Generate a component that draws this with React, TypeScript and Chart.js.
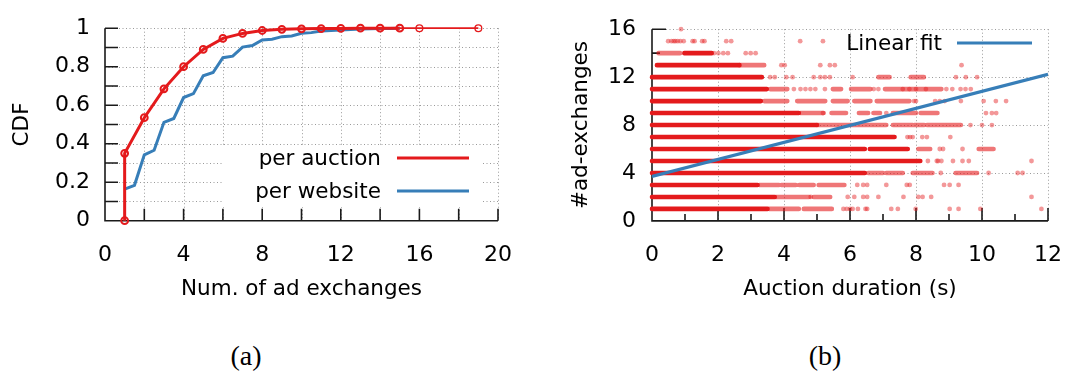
import React, { useEffect, useRef } from "react";
import { Chart, registerables } from "chart.js";

Chart.register(...registerables);

const FONT = "DejaVu Sans";
const RED = "#e41a1c";
const BLUE = "#377eb8";

// (a) CDF of the number of ad exchanges
const auctionX = [1, 1, 2, 3, 4, 5, 6, 7, 8, 9, 10, 11, 12, 13, 14, 15, 16, 19];
const auctionCdf = [0, 0.35, 0.535, 0.685, 0.8, 0.89, 0.947, 0.973, 0.988, 0.994, 0.997, 0.998, 0.999, 1, 1, 1, 1, 1];
const websiteX = [1, 1.5, 2, 2.5, 3, 3.5, 4, 4.5, 5, 5.5, 6, 6.5, 7, 7.5, 8, 8.5, 9, 9.5, 10, 10.5, 11, 11.5, 12, 12.5, 13, 13.5, 14, 14.5, 15];
const websiteCdf = [0.164, 0.184, 0.342, 0.366, 0.511, 0.531, 0.64, 0.66, 0.753, 0.77, 0.847, 0.855, 0.902, 0.91, 0.939, 0.943, 0.956, 0.96, 0.974, 0.977, 0.985, 0.988, 0.991, 0.993, 0.996, 0.997, 0.999, 0.999, 1];
const cdfXLabels = [0, 4, 8, 12, 16, 20];
const cdfYLabels = [0, 0.2, 0.4, 0.6, 0.8, 1];
const cdfXGrid = [2, 4, 6, 8, 10, 12, 14, 16, 18, 20];
const cdfYGrid = [0.1, 0.2, 0.3, 0.4, 0.5, 0.6, 0.7, 0.8, 0.9, 1];

// (b) ad exchanges per auction against auction duration
const durationLabels = [0, 2, 4, 6, 8, 10, 12];
const exchangeLabels = [0, 4, 8, 12, 16];
const durationMinor = [1, 3, 5, 7, 9, 11];
const exchangeMinor = [2, 6, 10, 14];
const fitX = [0, 12];
const fitY = [3.72, 12.24];
// [exchanges, duration from, duration to] where auctions pile up into a solid band
const solidRuns: [number, number, number][] = [
  [1, 0, 3.5], [2, 0, 3.72], [3, 0, 3.2], [4, 0, 6.45], [5, 0, 8.13],
  [6, 0, 6.45], [6, 6.6, 7.75], [7, 0, 7.35], [8, 0, 5.0], [9, 0, 4.45],
  [10, 0, 3.3], [11, 0, 3.48], [12, 0, 3.33], [13, 0.15, 2.65], [14, 0.98, 1.81],
];
// [exchanges, duration from, duration to] where auctions are frequent but not overlapping
const sparseRuns: [number, number, number][] = [
  [1, 3.55, 4.45], [1, 4.6, 5.45],
  [2, 3.75, 4.76], [2, 4.9, 5.4],
  [3, 3.25, 3.85], [3, 3.92, 4.36], [3, 4.46, 4.9], [3, 5.05, 5.83],
  [4, 6.55, 7.0], [4, 7.1, 7.6], [4, 7.9, 8.5], [4, 9.2, 9.85],
  [6, 8.07, 8.43], [6, 9.9, 10.35],
  [8, 5.0, 7.1], [8, 7.3, 7.9], [8, 7.95, 8.25], [8, 8.33, 9.36],
  [9, 4.5, 5.2], [9, 5.44, 5.88], [9, 6.27, 6.55], [9, 6.71, 6.91], [9, 7.3, 8.0], [9, 8.14, 8.65],
  [10, 3.4, 4.1], [10, 4.4, 5.25], [10, 5.48, 5.93], [10, 6.13, 6.62], [10, 6.81, 7.8],
  [11, 3.58, 4.1], [11, 5.48, 5.73], [11, 6.03, 6.62], [11, 7.06, 8.77],
  [12, 6.86, 7.2], [12, 7.84, 8.24],
  [13, 2.65, 3.4],
  [14, 0.2, 0.85],
];
// [exchanges, durations of isolated auctions]
const isolatedAuctions: [number, number[]][] = [
  [1, [5.8, 5.9, 6.0, 6.08, 6.24, 6.47, 6.52, 7.25, 7.45, 7.99, 9.02, 9.29, 9.95, 11.8]],
  [2, [4.81, 5.93, 6.13, 6.4, 6.52, 6.86, 7.62, 8.07, 8.2, 8.46, 11.5]],
  [3, [6.22, 6.4, 6.52, 7.1, 7.72, 7.81, 8.85, 9.02, 9.29]],
  [4, [8.75, 10.2, 11.08, 11.23]],
  [5, [8.36, 8.63, 8.67, 8.77, 9.12, 9.41, 9.6, 11.5]],
  [6, [8.72, 8.82, 9.41]],
  [7, [7.74, 7.82, 7.9, 8.19, 8.33, 9.04]],
  [8, [9.65, 10.0, 10.3]],
  [9, [5.18, 7.1, 10.12, 10.3, 10.43]],
  [10, [7.94, 8.0, 8.58, 8.72, 8.87, 9.36, 10.05, 10.42, 10.73]],
  [11, [4.3, 4.5, 4.65, 4.8, 4.95, 5.24, 6.72, 6.86, 7.6, 7.8, 8.0, 8.3, 8.92, 9.1, 9.35, 9.5, 9.66]],
  [12, [3.58, 3.72, 4.07, 4.26, 4.9, 5.1, 5.24, 5.39, 6.08, 9.21, 9.51, 9.85]],
  [13, [3.92, 4.02, 5.1, 5.39, 5.54, 9.38]],
  [14, [1.88, 2.01, 2.16, 2.3, 2.84, 2.99, 3.14]],
  [15, [0.49, 0.59, 0.66, 0.71, 0.78, 0.86, 0.96, 1.23, 1.29, 1.52, 1.59, 2.25, 2.4, 4.49, 5.18]],
  [16, [0.88]],
];

type KeyEntry = { text: string; color: string; textRight: number; y: number; from: number; to: number };
type FrameSpec = {
  xGrid: number[];
  yGrid: number[];
  xTicks: [number, number][];
  yTicks: [number, number][];
  box?: [number, number, number, number];
  key: KeyEntry[];
};

// gnuplot-like frame: dotted grid, left/bottom border with inward ticks, and an inline key
function makeFrame(spec: FrameSpec) {
  return {
    id: "frame",
    beforeDatasetsDraw(chart: any) {
      const { ctx, chartArea: a, scales } = chart;
      const xs = scales.x;
      const ys = scales.y;
      ctx.save();
      ctx.strokeStyle = "#9a9a9a";
      ctx.lineWidth = 1;
      ctx.setLineDash([1, 2.5]);
      ctx.beginPath();
      for (const v of spec.xGrid) {
        const px = Math.round(xs.getPixelForValue(v)) + 0.5;
        ctx.moveTo(px, a.top);
        ctx.lineTo(px, a.bottom);
      }
      for (const v of spec.yGrid) {
        const py = Math.round(ys.getPixelForValue(v)) + 0.5;
        ctx.moveTo(a.left, py);
        ctx.lineTo(a.right, py);
      }
      ctx.stroke();
      ctx.setLineDash([]);
      if (spec.box) {
        ctx.fillStyle = "#ffffff";
        ctx.fillRect(spec.box[0], spec.box[1], spec.box[2], spec.box[3]);
      }
      ctx.strokeStyle = "#1a1a1a";
      ctx.lineWidth = 1.6;
      ctx.beginPath();
      ctx.moveTo(a.left, a.top);
      ctx.lineTo(a.left, a.bottom);
      ctx.lineTo(a.right, a.bottom);
      for (const [v, len] of spec.xTicks) {
        const px = xs.getPixelForValue(v);
        ctx.moveTo(px, a.bottom);
        ctx.lineTo(px, a.bottom - len);
      }
      for (const [v, len] of spec.yTicks) {
        const py = ys.getPixelForValue(v);
        ctx.moveTo(a.left, py);
        ctx.lineTo(a.left + len, py);
      }
      ctx.stroke();
      ctx.restore();
    },
    afterDatasetsDraw(chart: any) {
      const { ctx } = chart;
      ctx.save();
      ctx.font = `21.5px "${FONT}"`;
      ctx.textAlign = "right";
      ctx.textBaseline = "middle";
      for (const k of spec.key) {
        ctx.fillStyle = "#000";
        ctx.fillText(k.text, k.textRight, k.y + 1.5);
        ctx.strokeStyle = k.color;
        ctx.lineWidth = 3;
        ctx.beginPath();
        ctx.moveTo(k.from, k.y);
        ctx.lineTo(k.to, k.y);
        ctx.stroke();
      }
      ctx.restore();
    },
  };
}

const tickFont = { family: FONT, size: 22 };
const titleFont = { family: FONT, size: 21.5 };

function axis(
  min: number,
  max: number,
  labels: number[],
  title: string,
  horizontal: boolean,
  extent: number,
  titlePad: number,
  labelPad: number
) {
  return {
    type: "linear",
    min,
    max,
    afterBuildTicks: (s: any) => {
      s.ticks = labels.map((value) => ({ value }));
    },
    afterFit: (s: any) => {
      if (horizontal) s.height = extent;
      else s.width = extent;
    },
    grid: { display: false, drawTicks: false, tickLength: 0 },
    border: { display: false },
    ticks: {
      font: tickFont,
      color: "#000",
      padding: labelPad,
      autoSkip: false,
      maxRotation: 0,
      callback: (v: number) => String(Number(v.toFixed(1))),
    },
    title: {
      display: true,
      text: title,
      font: titleFont,
      color: "#000",
      padding: horizontal ? { top: 0, bottom: titlePad } : { top: titlePad, bottom: 0 },
    },
  };
}

function runsToPoints(runs: [number, number, number][]) {
  const pts: { x: number; y: number | null }[] = [];
  for (const [row, from, to] of runs) {
    pts.push({ x: from, y: row }, { x: to, y: row }, { x: to, y: null });
  }
  return pts;
}

function cdfConfig(): any {
  return {
    type: "line",
    data: {
      datasets: [
        {
          label: "per auction",
          data: auctionX.map((x, i) => ({ x, y: auctionCdf[i] })),
          borderColor: RED,
          borderWidth: 3,
          segment: { borderWidth: (c: any) => (c.p0.parsed.x >= 15 ? 1.8 : 3) },
          pointStyle: "circle",
          pointRadius: 3.4,
          pointBorderWidth: (c: any) => (c.raw && c.raw.x > 15 ? 1.3 : 2),
          pointBackgroundColor: "rgba(0,0,0,0)",
          pointBorderColor: RED,
          tension: 0,
          clip: false,
          order: 0,
        },
        {
          label: "per website",
          data: websiteX.map((x, i) => ({ x, y: websiteCdf[i] })),
          borderColor: BLUE,
          borderWidth: 3,
          pointRadius: 0,
          tension: 0,
          clip: false,
          order: 1,
        },
      ],
    },
    options: {
      animation: false,
      responsive: false,
      devicePixelRatio: 1,
      layout: { padding: { left: 0, right: 42, top: 14, bottom: 0 } },
      plugins: { legend: { display: false }, tooltip: { enabled: false } },
      scales: {
        x: axis(0, 20, cdfXLabels, "Num. of ad exchanges", true, 89.3, 8, 21),
        y: axis(0, 1, cdfYLabels, "CDF", false, 105, 9.5, 15),
      },
    },
    plugins: [
      makeFrame({
        xGrid: cdfXGrid,
        yGrid: cdfYGrid,
        xTicks: cdfXGrid.map((v) => [v, 12] as [number, number]),
        yTicks: cdfYGrid.map((v) => [v, 13] as [number, number]),
        box: [222, 146, 260, 61],
        key: [
          { text: "per auction", color: RED, textRight: 381, y: 158, from: 397, to: 469 },
          { text: "per website", color: BLUE, textRight: 381, y: 191, from: 397, to: 469 },
        ],
      }),
    ],
  };
}

function scatterConfig(): any {
  const dots: { x: number; y: number }[] = [];
  for (const [row, xs] of isolatedAuctions) for (const x of xs) dots.push({ x, y: row });
  return {
    type: "line",
    data: {
      datasets: [
        {
          label: "Linear fit",
          data: fitX.map((x, i) => ({ x, y: fitY[i] })),
          borderColor: BLUE,
          borderWidth: 3.2,
          pointRadius: 0,
          order: 0,
        },
        {
          label: "isolated",
          data: dots,
          showLine: false,
          pointRadius: 2.4,
          pointBorderWidth: 0,
          pointBackgroundColor: "rgba(228,26,28,0.45)",
          clip: false,
          order: 1,
        },
        {
          label: "sparse",
          data: runsToPoints(sparseRuns),
          borderColor: "rgba(228,26,28,0.6)",
          borderWidth: 4.6,
          borderCapStyle: "round",
          pointRadius: 0,
          spanGaps: false,
          clip: false,
          order: 2,
        },
        {
          label: "solid",
          data: runsToPoints(solidRuns),
          borderColor: RED,
          borderWidth: 4.6,
          borderCapStyle: "round",
          pointRadius: 0,
          spanGaps: false,
          clip: false,
          order: 3,
        },
      ],
    },
    options: {
      animation: false,
      responsive: false,
      devicePixelRatio: 1,
      layout: { padding: { left: 0, right: 23, top: 13.7, bottom: 0 } },
      plugins: { legend: { display: false }, tooltip: { enabled: false } },
      scales: {
        x: axis(0, 12, durationLabels, "Auction duration (s)", true, 89.1, 8, 21),
        y: axis(0, 16, exchangeLabels, "#ad-exchanges", false, 112, 29, 16),
      },
    },
    plugins: [
      makeFrame({
        xGrid: durationLabels.slice(1),
        yGrid: exchangeLabels.slice(1),
        xTicks: [
          ...durationLabels.slice(1).map((v) => [v, 13] as [number, number]),
          ...durationMinor.map((v) => [v, 7] as [number, number]),
        ],
        yTicks: [
          ...exchangeLabels.slice(1).map((v) => [v, 14] as [number, number]),
          ...exchangeMinor.map((v) => [v, 8] as [number, number]),
        ],
        key: [{ text: "Linear fit", color: BLUE, textRight: 402, y: 43, from: 417, to: 492 }],
      }),
    ],
  };
}

const captionStyle: React.CSSProperties = {
  position: "absolute",
  top: 339,
  width: 100,
  textAlign: "center",
  fontFamily: '"Liberation Serif", serif',
  fontSize: 28,
  lineHeight: "34px",
  color: "#000",
};

export default function App() {
  const cdfRef = useRef<HTMLCanvasElement>(null);
  const scatterRef = useRef<HTMLCanvasElement>(null);

  useEffect(() => {
    const a = new Chart(cdfRef.current as HTMLCanvasElement, cdfConfig());
    const b = new Chart(scatterRef.current as HTMLCanvasElement, scatterConfig());
    return () => {
      a.destroy();
      b.destroy();
    };
  }, []);

  return (
    <div style={{ position: "absolute", left: 0, top: 0, width: 1083, height: 379, background: "#fff" }}>
      <canvas
        ref={cdfRef}
        width={540}
        height={310}
        style={{ position: "absolute", left: 0, top: 0, width: 540, height: 310 }}
      />
      <canvas
        ref={scatterRef}
        width={543}
        height={310}
        style={{ position: "absolute", left: 540, top: 0, width: 543, height: 310 }}
      />
      <div style={{ ...captionStyle, left: 196 }}>(a)</div>
      <div style={{ ...captionStyle, left: 775 }}>(b)</div>
    </div>
  );
}
